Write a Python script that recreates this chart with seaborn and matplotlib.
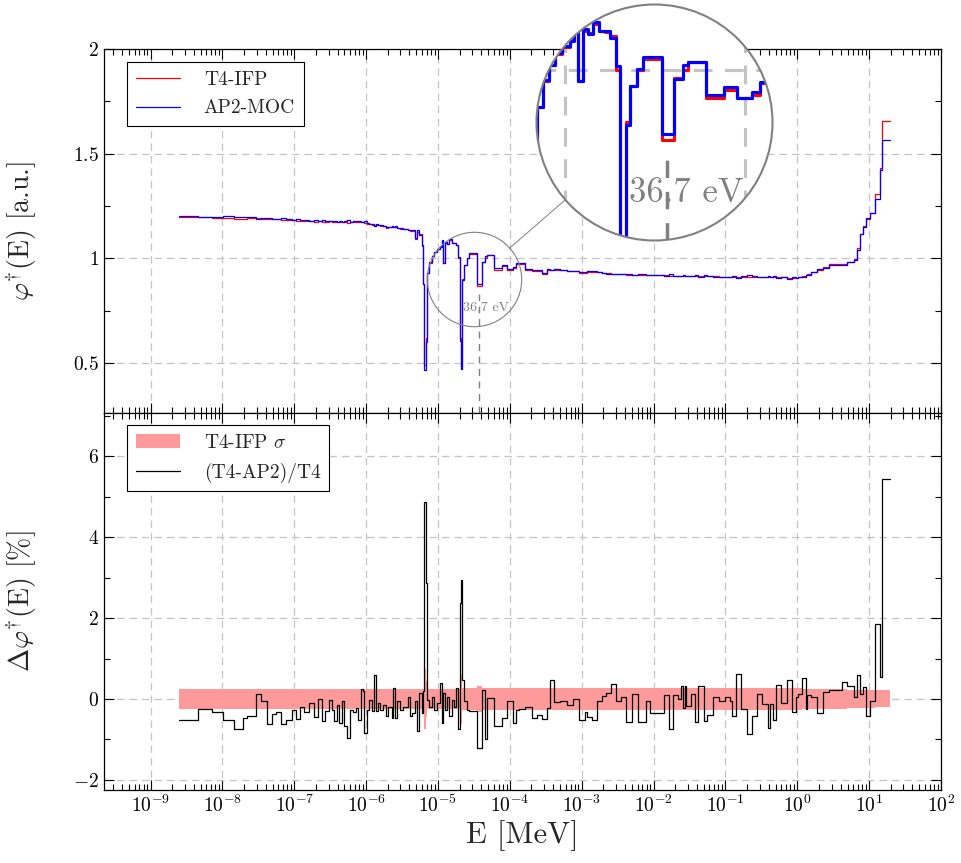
import numpy as np
import pandas as pd
import matplotlib
matplotlib.use("Agg")
import matplotlib.pyplot as plt
import seaborn as sns
from matplotlib.patches import Circle
from matplotlib.lines import Line2D
from matplotlib.ticker import (FixedLocator, LogLocator, MultipleLocator,
                               FuncFormatter, NullFormatter, NullLocator)

# ---------------------------------------------------------------------------
# Group boundaries (eV), adjoint flux per group (T4-IFP), relative difference
# (T4-AP2)/T4 in %, and T4 statistical uncertainty (1 sigma, %)
# ---------------------------------------------------------------------------
edges_ev = [
    2.52e-3, 4.62e-3, 7.10e-3, 1.03e-2, 1.46e-2, 1.95e-2, 2.22e-2, 2.93e-2,
    3.44e-2, 4.13e-2, 4.85e-2, 5.56e-2, 6.53e-2, 7.66e-2, 9.20e-2, 0.1056,
    0.120, 0.1377, 0.160, 0.188, 0.2158, 0.245, 0.267, 0.307, 0.331, 0.360,
    0.389, 0.418, 0.456, 0.491, 0.536, 0.595, 0.649, 0.714, 0.776, 0.839,
    0.894, 0.941,
    1.016, 1.094, 1.193, 1.284, 1.356, 1.459, 1.556, 1.696, 1.886, 2.030,
    2.263, 2.382, 2.516, 2.708, 2.953, 3.281, 3.851, 4.067, 4.377, 4.772,
    5.137, 5.477, 5.914, 6.226, 6.429, 6.723, 6.941, 7.544, 8.147, 8.770,
    9.561, 10.63, 11.22, 11.81, 12.47, 13.43, 14.32, 15.46, 16.64, 17.74,
    19.10, 20.17, 20.83, 21.71, 22.92, 24.99, 27.16, 34.43, 40.40, 44.91,
    48.33, 60.49, 76.67, 89.98, 109.0,
    121.2, 134.7, 161.7, 200.4, 235.1, 281.3, 323.8, 360.0, 413.1, 496.0,
    614.6, 759.5, 920.0, 1104, 1189, 1369, 1638, 1886, 2213, 2597, 3048,
    3577, 4199, 5088, 6087, 7789, 8853, 1.386e4, 1.643e4, 1.867e4, 2.191e4,
    2.443e4, 2.573e4, 2.716e4, 2.868e4, 3.367e4, 3.741e4, 4.157e4, 4.992e4,
    5.548e4, 6.723e4, 8.147e4, 9.779e4, 1.174e5, 1.235e5, 1.422e5, 1.669e5,
    1.997e5, 2.344e5, 2.751e5, 3.228e5, 3.913e5, 4.225e5, 4.592e5, 5.123e5,
    5.877e5, 7.189e5, 8.547e5, 9.500e5, 1.036e6, 1.177e6, 1.309e6, 1.365e6,
    1.571e6, 1.879e6, 2.278e6, 2.734e6, 4.185e6, 4.975e6, 6.087e6, 6.767e6,
    7.546e6, 8.203e6, 9.145e6, 1.016e7, 1.193e7, 1.432e7, 1.527e7, 1.960e7,
]

phi_t4 = [
    1.197, 1.196, 1.195, 1.194, 1.190, 1.190, 1.191, 1.192, 1.190, 1.187,
    1.186, 1.186, 1.184, 1.183, 1.182, 1.181, 1.181, 1.180, 1.179, 1.176,
    1.177, 1.175, 1.176, 1.177, 1.176, 1.173, 1.174, 1.172, 1.175, 1.172,
    1.171, 1.173, 1.174, 1.174, 1.172, 1.175, 1.174,
    1.168, 1.166, 1.164, 1.162, 1.160, 1.160, 1.158, 1.156, 1.155, 1.145,
    1.148, 1.150, 1.151, 1.148, 1.146, 1.142, 1.140, 1.137, 1.133, 1.130,
    1.095, 1.125, 1.115, 1.060, 0.880, 0.490, 0.620, 0.930, 0.980, 1.010,
    1.030, 1.045, 1.060, 1.080, 0.980, 1.075, 1.070, 1.088, 1.075, 1.072,
    1.065, 1.000, 0.620, 0.487, 0.900, 0.970, 1.000, 1.022, 0.867, 0.985,
    1.000, 1.015, 0.946, 0.963, 0.947,
    0.953, 0.975, 0.975, 0.947, 0.940, 0.940, 0.925, 0.947, 0.947, 0.947,
    0.946, 0.940, 0.940, 0.932, 0.932, 0.935, 0.934, 0.933, 0.930, 0.929,
    0.927, 0.926, 0.925, 0.922, 0.923, 0.921, 0.921, 0.920, 0.919, 0.918,
    0.918, 0.918, 0.917, 0.917, 0.917, 0.916, 0.916, 0.916, 0.915, 0.915,
    0.914, 0.914, 0.913, 0.913, 0.913, 0.912, 0.912, 0.912, 0.911, 0.911,
    0.911, 0.910, 0.910, 0.910, 0.909, 0.909, 0.909, 0.908, 0.908, 0.908,
    0.911, 0.915, 0.920, 0.924, 0.935, 0.947, 0.958, 0.972, 0.975, 0.984,
    0.995, 1.048, 1.119, 1.154, 1.190, 1.215, 1.306, 1.430, 1.656,
]

delta_pct = [
    -0.53, -0.24, -0.32, -0.53, -0.74, -0.47, -0.43, 0.12, -0.06, -0.63,
    -0.37, -0.33, -0.63, -0.51, -0.26, -0.49, -0.21, -0.32, -0.10, -0.44,
    0.01, -0.55, -0.30, -0.02, -0.26, -0.55, -0.16, -0.59, -0.04, -0.68,
    -0.96, -0.26, -0.33, -0.22, -0.51, 0.25, 0.20,
    -0.85, -0.26, -0.02, -0.30, 0.60, -0.30, -0.10, -0.26, -0.14, -0.43,
    -0.19, -0.48, 0.27, -0.47, -0.06, -0.26, -0.20, 0.06, -0.43, -0.35,
    -0.05, -0.80, 0.15, -0.35, 0.20, 4.88, 2.86, -0.02, -0.19, 0.06,
    -0.26, -0.10, 0.40, -0.59, 0.15, -0.26, 0.06, -0.43, -0.02, -0.19,
    0.27, -0.75, 2.37, 2.93, 0.48, -0.06, -0.26, -0.30, -1.21, 0.23,
    -1.00, 0.02, -0.68, -0.47, -0.06,
    -0.59, -0.26, -0.24, -0.21, -0.47, -0.39, -0.49, -0.22, 0.46, -0.07,
    -0.05, -0.14, 0.00, -0.51, -0.32, -0.44, -0.51, -0.06, 0.08, 0.15,
    0.38, -0.04, 0.05, -0.57, 0.13, -0.57, -0.06, -0.35, 0.11, -0.73,
    0.11, 0.00, 0.31, -0.22, 0.32, -0.18, 0.13, -0.58, 0.33, -0.55,
    -0.39, 0.06, -0.06, 0.05, -0.06, -0.41, 0.62, -0.25, -0.86, -0.41,
    0.12, -0.12, -0.72, -0.12, -0.53, 0.34, -0.10, 0.46, -0.31, 0.06,
    0.12, 0.51, -0.25, 0.10, 0.06, -0.35, 0.17, 0.21, 0.43, 0.31,
    0.06, 0.59, 0.12, 0.29, -0.41, -0.06, 1.85, 0.55, 5.45,
]

sigma_pct = [
    0.24, 0.24, 0.24, 0.24, 0.24, 0.24, 0.24, 0.24, 0.24, 0.24,
    0.24, 0.24, 0.24, 0.24, 0.24, 0.24, 0.24, 0.24, 0.24, 0.24,
    0.24, 0.24, 0.24, 0.24, 0.24, 0.24, 0.24, 0.24, 0.24, 0.24,
    0.24, 0.24, 0.24, 0.24, 0.24, 0.24, 0.24,
    0.24, 0.24, 0.24, 0.24, 0.24, 0.24, 0.24, 0.24, 0.24, 0.24,
    0.24, 0.24, 0.24, 0.24, 0.24, 0.24, 0.24, 0.24, 0.24, 0.24,
    0.24, 0.24, 0.24, 0.24, 0.24, 0.74, 0.45, 0.25, 0.25, 0.25,
    0.25, 0.25, 0.25, 0.25, 0.25, 0.25, 0.25, 0.25, 0.25, 0.25,
    0.25, 0.25, 0.45, 0.62, 0.26, 0.26, 0.26, 0.26, 0.31, 0.28,
    0.28, 0.28, 0.28, 0.28, 0.28,
    0.27, 0.27, 0.27, 0.27, 0.27, 0.27, 0.27, 0.27, 0.27, 0.27,
    0.27, 0.27, 0.27, 0.27, 0.27, 0.27, 0.27, 0.27, 0.27, 0.27,
    0.27, 0.27, 0.27, 0.27, 0.27, 0.27, 0.27, 0.27, 0.27, 0.27,
    0.27, 0.27, 0.27, 0.27, 0.27, 0.27, 0.27, 0.27, 0.27, 0.27,
    0.27, 0.27, 0.27, 0.27, 0.27, 0.27, 0.27, 0.27, 0.27, 0.27,
    0.27, 0.27, 0.27, 0.27, 0.26, 0.26, 0.26, 0.26, 0.26, 0.26,
    0.26, 0.25, 0.25, 0.25, 0.25, 0.24, 0.24, 0.24, 0.24, 0.23,
    0.23, 0.23, 0.23, 0.22, 0.22, 0.22, 0.21, 0.21, 0.21,
]

resonance_ev = 36.7          # marked U-238 resonance
resonance_label = "36.7 eV"
x_ticks = [1e-9, 1e-8, 1e-7, 1e-6, 1e-5, 1e-4, 1e-3, 1e-2, 1e-1, 1e0, 1e1, 1e2]
top_yticks = [0.5, 1.0, 1.5, 2.0]
bottom_yticks = [-2, 0, 2, 4, 6]

# ---------------------------------------------------------------------------
e_mev = np.asarray(edges_ev) * 1e-6
t4 = np.asarray(phi_t4)
dlt = np.asarray(delta_pct)
ap2 = t4 * (1.0 - dlt / 100.0)
sig = np.asarray(sigma_pct)


def stepped(v):
    return np.append(v, v[-1])


df = pd.DataFrame({
    "E": e_mev,
    "T4-IFP": stepped(t4),
    "AP2-MOC": stepped(ap2),
    "delta": stepped(dlt),
    "sigma": stepped(sig),
})

sns.set_theme(style="ticks")
plt.rcParams.update({
    "font.family": "cmr10",
    "mathtext.fontset": "cm",
    "axes.formatter.use_mathtext": True,
    "axes.unicode_minus": True,
    "axes.edgecolor": "black",
    "axes.linewidth": 0.9,
    "xtick.color": "black",
    "ytick.color": "black",
})

W, H = 961, 863
fig = plt.figure(figsize=(W / 100, H / 100), dpi=100)
fig.patch.set_facecolor("white")
L, R = 104 / W, 941 / W
ax1 = fig.add_axes([L, 1 - 413 / H, R - L, (413 - 49) / H])
ax2 = fig.add_axes([L, 1 - 790 / H, R - L, (790 - 413) / H])

GRID = dict(color="#c4c4c4", linestyle=(0, (6, 4)), linewidth=0.9)
LW = 0.9
band_color = "#ff9a9a"
LEG = dict(loc="upper left", fontsize=14, frameon=True, fancybox=False,
           edgecolor="black", framealpha=1, handlelength=2.3,
           handletextpad=1.2, borderpad=0.45, labelspacing=0.55,
           borderaxespad=0)


def style_axis(ax):
    ax.set_xscale("log")
    ax.set_xlim(2.25e-10, 1e2)
    ax.xaxis.set_major_locator(FixedLocator(x_ticks))
    ax.xaxis.set_minor_locator(LogLocator(base=10, subs=np.arange(2, 10), numticks=100))
    ax.xaxis.set_minor_formatter(NullFormatter())
    ax.tick_params(which="both", direction="in", top=True, right=True,
                   labelsize=14, width=0.8)
    ax.tick_params(which="major", length=7)
    ax.tick_params(which="minor", length=4.5)
    ax.grid(True, which="major", **GRID)
    ax.set_axisbelow(True)
    ax.yaxis.set_major_formatter(FuncFormatter(lambda v, p: f"${v:g}$"))


for ax in (ax1, ax2):
    style_axis(ax)

# ---- top panel: adjoint flux ----------------------------------------------
sns.lineplot(data=df, x="E", y="T4-IFP", ax=ax1, color="red", lw=LW,
             drawstyle="steps-post", estimator=None, label="T4-IFP")
sns.lineplot(data=df, x="E", y="AP2-MOC", ax=ax1, color="blue", lw=LW,
             drawstyle="steps-post", estimator=None, label="AP2-MOC")
ax1.set_ylim(0.262, 2.0)
ax1.yaxis.set_major_locator(FixedLocator(top_yticks))
ax1.yaxis.set_minor_locator(MultipleLocator(0.25))
ax1.tick_params(labelbottom=False)
ax1.set_xlabel("")
ax1.set_ylabel(r"$\varphi^{\dagger}$(E) [a.u.]", fontsize=20)
ax1.yaxis.set_label_coords(-0.078, 0.5)

leg1 = ax1.legend(bbox_to_anchor=(0.0275, 0.964), **LEG)
leg1.get_frame().set_linewidth(0.8)

# resonance marker
res_mev = resonance_ev * 1e-6
y0, y1 = ax1.get_ylim()
res_top = 0.83
ax1.axvline(res_mev, ymin=0, ymax=(res_top - y0) / (y1 - y0), color="#808080",
            lw=1.0, ls=(0, (5, 4)), zorder=3)
ax1.annotate(resonance_label, xy=(res_mev, 0.765), xytext=(-11, 0),
             textcoords="offset points", ha="left", va="center",
             fontsize=10, color="#808080", zorder=4)

# ---- bottom panel: relative difference ------------------------------------
ax2.fill_between(df["E"], -df["sigma"], df["sigma"], step="post",
                 color=band_color, lw=0, label=r"T4-IFP $\sigma$", zorder=1)
sns.lineplot(data=df, x="E", y="delta", ax=ax2, color="black", lw=LW,
             drawstyle="steps-post", estimator=None, label="(T4-AP2)/T4", zorder=2)
ax2.set_ylim(-2.25, 7.07)
ax2.yaxis.set_major_locator(FixedLocator(bottom_yticks))
ax2.yaxis.set_minor_locator(MultipleLocator(1))
ax2.set_xlabel("E [MeV]", fontsize=22)
ax2.xaxis.set_label_coords(0.5, -0.08)
ax2.set_ylabel(r"$\Delta\varphi^{\dagger}$(E) [%]", fontsize=20)
ax2.yaxis.set_label_coords(-0.078, 0.5)
leg2 = ax2.legend(bbox_to_anchor=(0.0275, 0.968), **LEG)
leg2.get_frame().set_linewidth(0.8)

# ---- magnifying lens around the 20.9 eV / 36.7 eV resonances ---------------
lens_centre = (31.3e-6, 0.90)       # MeV, a.u.
r_small, r_big = 47.2, 118.0        # pixels
big_cx, big_cy = 654.5, H - 122.5   # pixels (display coords)
mag = r_big / r_small

cx, cy = ax1.transData.transform(lens_centre)
inv = ax1.transData.inverted()
lx0, ly0 = inv.transform((cx - r_small, cy - r_small))
lx1, ly1 = inv.transform((cx + r_small, cy + r_small))

ax1.plot([lens_centre[0]], [lens_centre[1]], marker="o",
         ms=2 * r_small * 72 / 100, mfc="none", mec="#808080", mew=0.8,
         zorder=5)

ins = fig.add_axes([(big_cx - r_big) / W, (big_cy - r_big) / H,
                    2 * r_big / W, 2 * r_big / H])
ins.set_xscale("log")
ins.set_xlim(lx0, lx1)
ins.set_ylim(ly0, ly1)
for s in ins.spines.values():
    s.set_visible(False)
ins.xaxis.set_major_locator(NullLocator())
ins.xaxis.set_minor_locator(NullLocator())
ins.yaxis.set_major_locator(NullLocator())
clip = Circle((0.5, 0.5), 0.5, transform=ins.transAxes)
ins.patch.set_facecolor("white")
ins.patch.set_clip_path(clip)

g_in = dict(GRID)
g_in["linewidth"] = GRID["linewidth"] * mag
for xv in x_ticks:
    if lx0 < xv < lx1:
        ins.axvline(xv, zorder=0.5, **g_in)
for yv in top_yticks:
    if ly0 < yv < ly1:
        ins.axhline(yv, zorder=0.5, **g_in)
ins.axvline(res_mev, ymin=0, ymax=(res_top - ly0) / (ly1 - ly0), color="#808080",
            lw=1.0 * mag, ls=(0, (5, 4)), zorder=3)
sns.lineplot(data=df, x="E", y="T4-IFP", ax=ins, color="red", lw=LW * mag,
             drawstyle="steps-post", estimator=None, legend=False)
sns.lineplot(data=df, x="E", y="AP2-MOC", ax=ins, color="blue", lw=LW * mag,
             drawstyle="steps-post", estimator=None, legend=False)
ins.set_xlim(lx0, lx1)
ins.set_ylim(ly0, ly1)
ins.set_xlabel("")
ins.set_ylabel("")
ins.annotate(resonance_label, xy=(res_mev, 0.765), xytext=(-11 * mag, 0),
             textcoords="offset points", ha="left", va="center",
             fontsize=10 * mag, color="#808080", zorder=4)
for art in list(ins.lines) + list(ins.texts):
    art.set_clip_path(clip)
ins.add_patch(Circle((0.5, 0.5), 0.5, transform=ins.transAxes, fill=False,
                     ec="#808080", lw=1.5, clip_on=False, zorder=10))

# connector between the two circles
dx, dy = big_cx - cx, big_cy - cy
dn = np.hypot(dx, dy)
ux, uy = dx / dn, dy / dn
p0 = fig.transFigure.inverted().transform((cx + r_small * ux, cy + r_small * uy))
p1 = fig.transFigure.inverted().transform((big_cx - r_big * ux, big_cy - r_big * uy))
fig.add_artist(Line2D([p0[0], p1[0]], [p0[1], p1[1]], transform=fig.transFigure,
                      color="#808080", lw=0.7))

fig.savefig("out.png", dpi=100, facecolor="white")
